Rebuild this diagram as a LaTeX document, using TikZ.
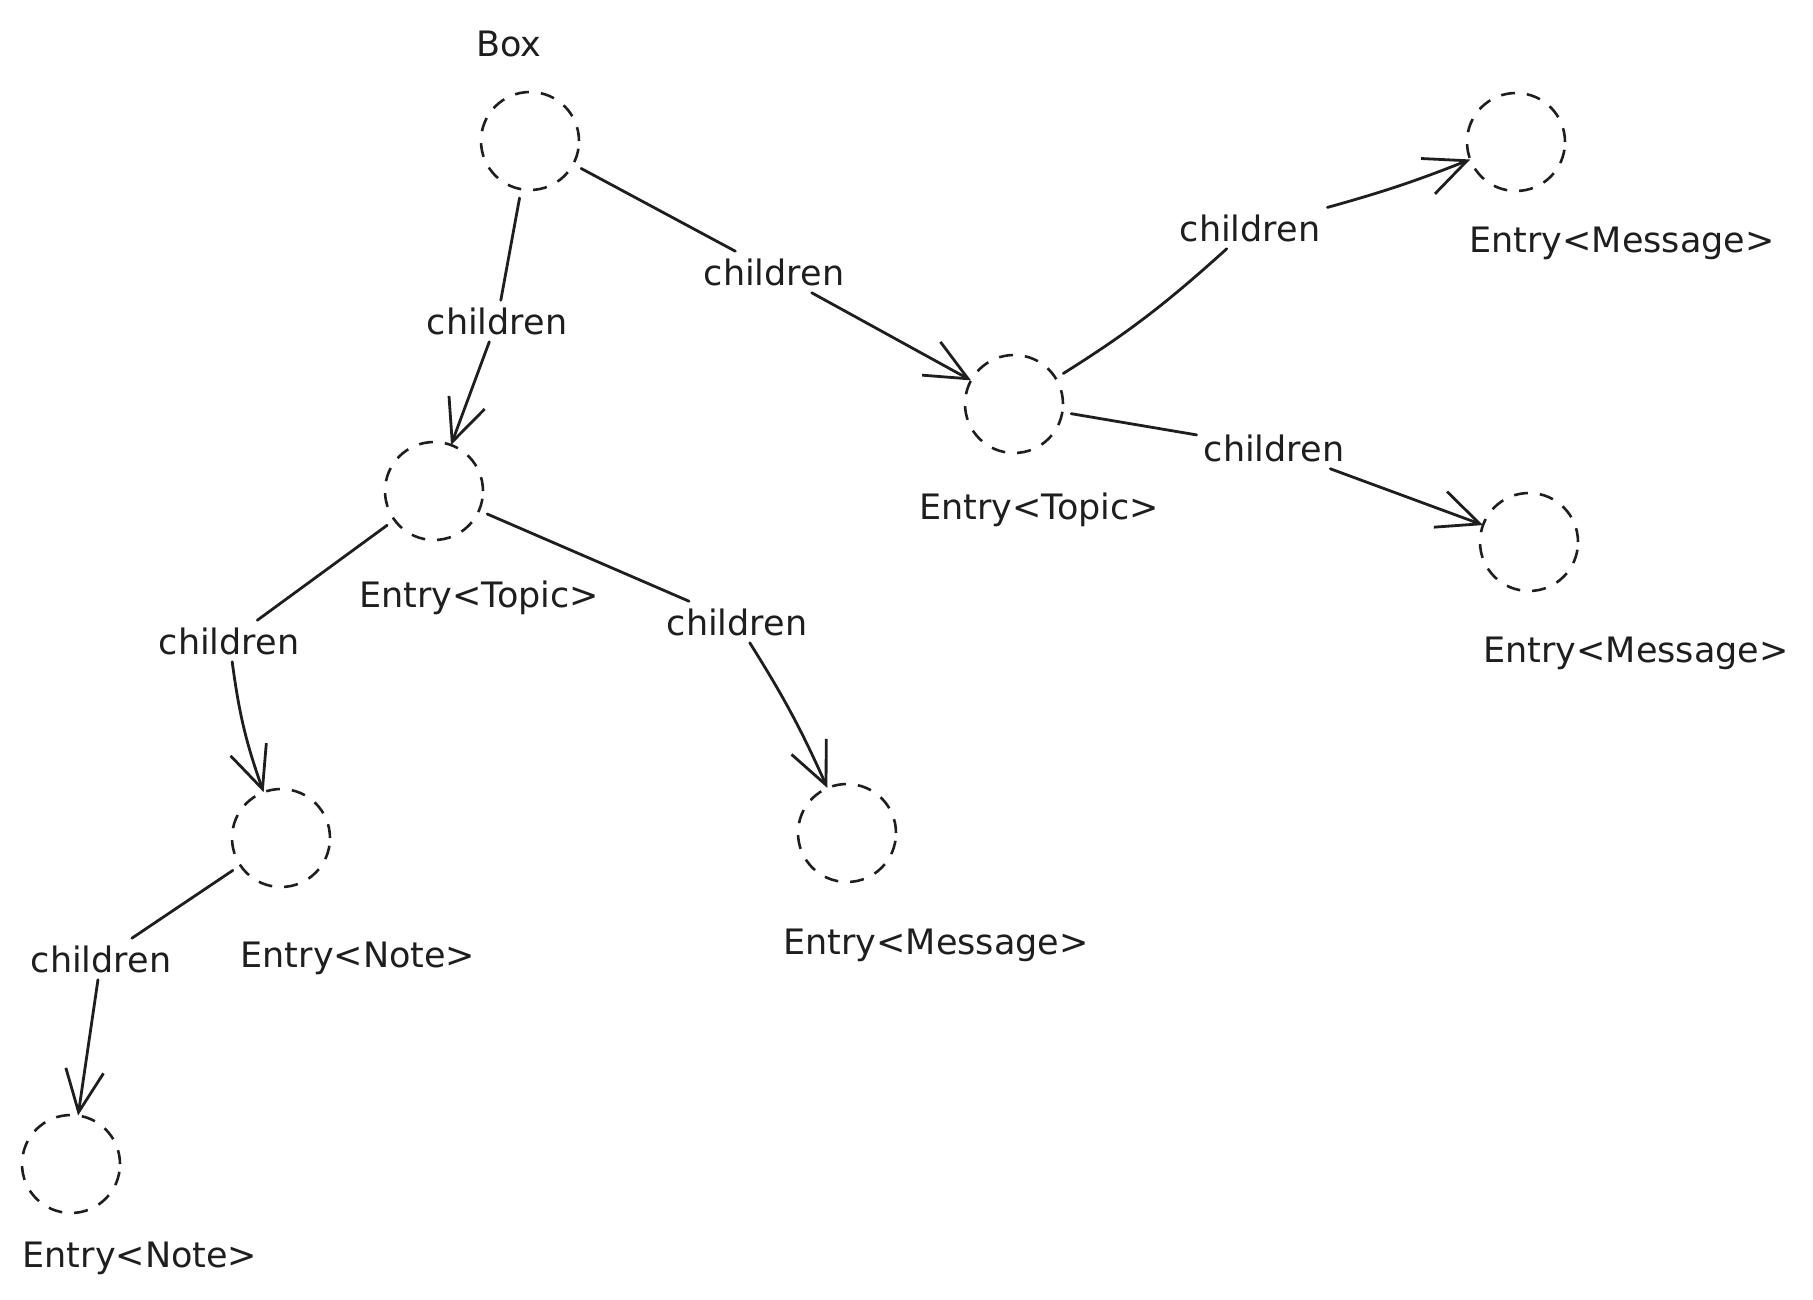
\documentclass[tikz,border=0pt]{standalone}
\usepackage{fontspec}
\setmainfont{DejaVu Sans}
\usetikzlibrary{arrows.meta}
\definecolor{ink}{HTML}{1E1E1E}
\begin{document}
\begin{tikzpicture}[x=1pt,y=-1pt,
  ent/.style={circle,draw=ink,dash pattern=on 14pt off 12pt,line width=2.6pt,minimum size=98pt,inner sep=0pt,outer sep=0pt},
  lbl/.style={font=\fontsize{35}{42}\selectfont,inner sep=0pt,text=ink},
  ch/.style={lbl,inner sep=7pt},
  ln/.style={line width=2.8pt,line cap=round,draw=ink},
  st/.style={ln,shorten <=9pt},
  arr/.style={ln,-{Straight Barb[length=42pt,width=38pt]}},
]
\useasboundingbox (0,0) rectangle (1813,1300);

% entries
\node[ent] (box) at (530,141) {};
\node[lbl] (boxl) at (509,44) {Box};
\node[ent] (tL) at (434,491) {};
\node[lbl] (tLl) at (479,598) {Entry<Topic>};
\node[ent] (tR) at (1014,404) {};
\node[lbl] (tRl) at (1039,510) {Entry<Topic>};
\node[ent] (m1) at (1516,142) {};
\node[lbl] (m1l) at (1622,243) {Entry<Message>};
\node[ent] (m2) at (1529,542) {};
\node[lbl] (m2l) at (1636,653) {Entry<Message>};
\node[ent] (m3) at (847,833) {};
\node[lbl] (m3l) at (936,945) {Entry<Message>};
\node[ent] (n1) at (281,838) {};
\node[lbl] (n1l) at (358,958) {Entry<Note>};
\node[ent] (n2) at (71,1164) {};
\node[lbl] (n2l) at (140,1258) {Entry<Note>};

% children labels
\node[ch] (c1) at (497,321) {children};
\node[ch] (c2) at (774,272) {children};
\node[ch] (c3) at (229,641) {children};
\node[ch] (c4) at (737,622) {children};
\node[ch] (c5) at (1250,228) {children};
\node[ch] (c6) at (1274,448) {children};
\node[ch] (c7) at (101,959) {children};

% connectors
\draw[st] (box) -- (c1);
\draw[arr] (c1) -- (tL);
\draw[st] (box) -- (c2);
\draw[arr] (c2) -- (tR);
\draw[st] (tL) -- (c3);
\draw[arr] (c3) to[bend right=6] (n1);
\draw[st] (tL) -- (c4);
\draw[arr] (c4) to[bend left=4] (m3);
\draw[st] (tR) to[bend right=5] (c5);
\draw[arr] (c5) to[bend right=3] (m1);
\draw[st] (tR) -- (c6);
\draw[arr] (c6) -- (m2);
\draw[st] (n1) -- (c7);
\draw[arr] (c7) -- (n2);
\end{tikzpicture}
\end{document}
